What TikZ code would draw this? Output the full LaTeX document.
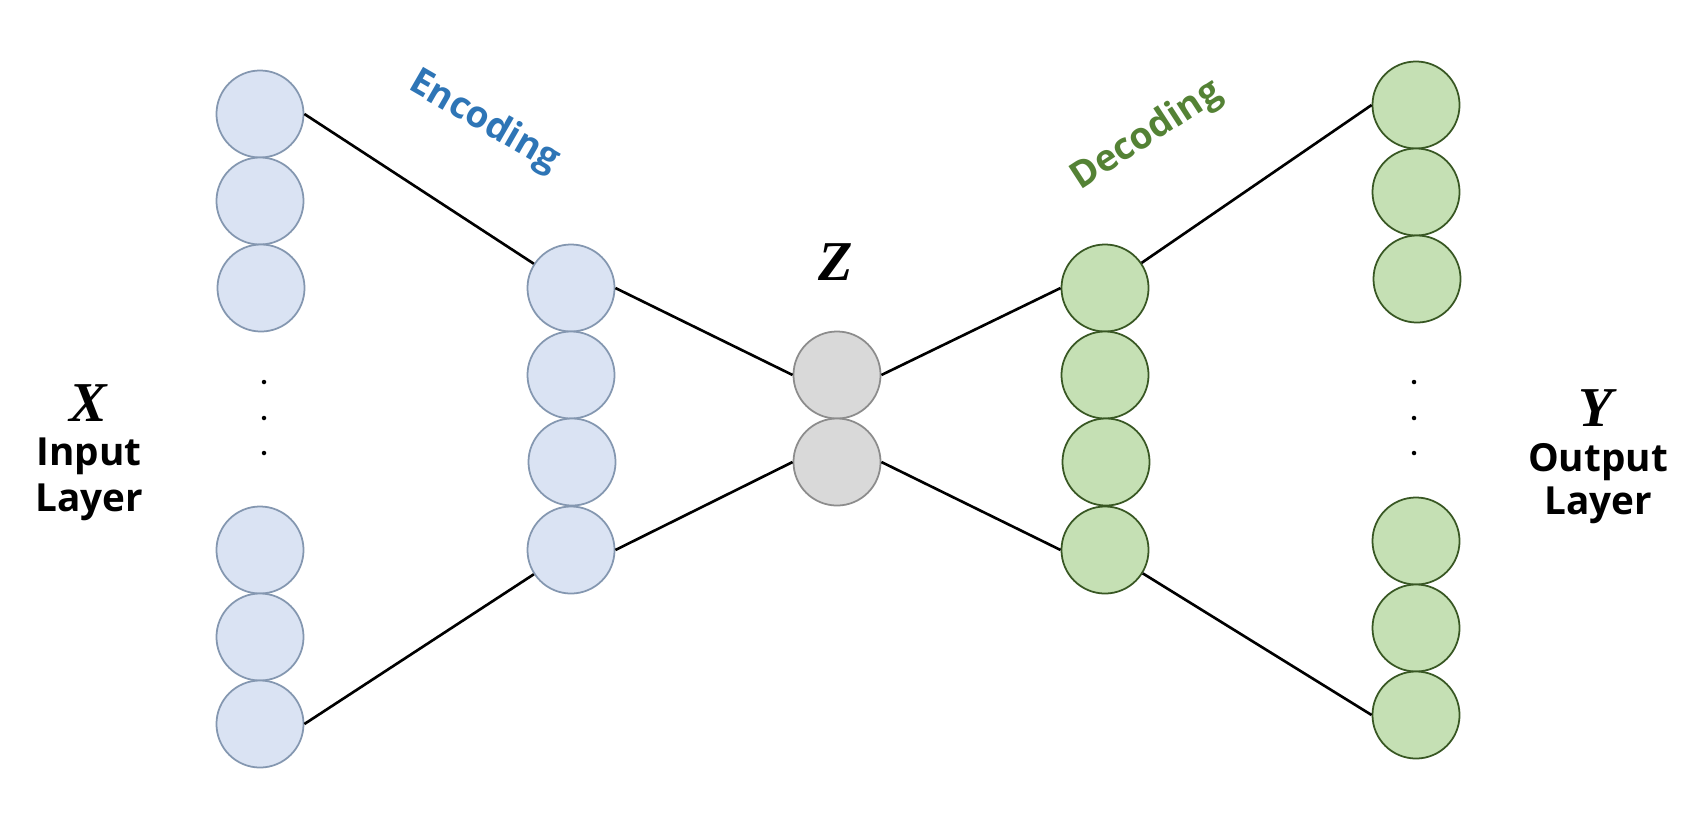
\documentclass[tikz,border=0pt]{standalone}
\usepackage{fontspec}
\setmainfont{Open Sans}
\newfontfamily\varfont{Liberation Serif}
\definecolor{encfill}{HTML}{DAE3F3}
\definecolor{encdraw}{HTML}{8497B0}
\definecolor{decfill}{HTML}{C5E0B4}
\definecolor{decdraw}{HTML}{385723}
\definecolor{zfill}{HTML}{D9D9D9}
\definecolor{zdraw}{HTML}{8C8C8C}
\definecolor{enctext}{HTML}{2E75B6}
\definecolor{dectext}{HTML}{548235}
\tikzset{
  neuron/.style={circle, minimum size=0.87cm, inner sep=0pt, line width=0.5pt},
  encn/.style={neuron, fill=encfill, draw=encdraw},
  decn/.style={neuron, fill=decfill, draw=decdraw},
  zn/.style={neuron, fill=zfill, draw=zdraw},
  link/.style={line width=0.75pt, black},
  dotn/.style={circle, fill=black, inner sep=0pt, minimum size=0.045cm},
  lbl/.style={font=\fontsize{11}{12}\selectfont\bfseries, inner sep=0pt},
  varlbl/.style={font=\fontsize{16}{17}\selectfont\varfont\bfseries\itshape, inner sep=0pt},
  phase/.style={font=\fontsize{10.5}{12}\selectfont\bfseries, inner sep=0pt},
}
\begin{document}
\begin{tikzpicture}[x=0.01cm, y=-0.01cm]
\useasboundingbox (0,0) rectangle (1700,833);
% input layer
\node[encn] (in1) at (260,114) {};
\node[encn] (in2) at (260,201) {};
\node[encn] (in3) at (261,288) {};
\node[dotn] (ind1) at (264,382) {};
\node[dotn] (ind2) at (264,418) {};
\node[dotn] (ind3) at (264,453) {};
\node[encn] (in4) at (260,550) {};
\node[encn] (in5) at (260,637) {};
\node[encn] (in6) at (260,724) {};
% encoder hidden
\node[encn] (en1) at (571,288) {};
\node[encn] (en2) at (571,375) {};
\node[encn] (en3) at (572,462) {};
\node[encn] (en4) at (571,550) {};
% latent
\node[zn] (z1) at (837,375) {};
\node[zn] (z2) at (837,462) {};
% decoder hidden
\node[decn] (de1) at (1105,288) {};
\node[decn] (de2) at (1105,375) {};
\node[decn] (de3) at (1106,462) {};
\node[decn] (de4) at (1105,550) {};
% output layer
\node[decn] (out1) at (1416,105) {};
\node[decn] (out2) at (1416,192) {};
\node[decn] (out3) at (1417,279) {};
\node[dotn] (outd1) at (1414,382) {};
\node[dotn] (outd2) at (1414,418) {};
\node[dotn] (outd3) at (1414,453) {};
\node[decn] (out4) at (1416,541) {};
\node[decn] (out5) at (1416,628) {};
\node[decn] (out6) at (1416,715) {};
% connectors
\draw[link] (in1.east) -- (en1);
\draw[link] (in6.east) -- (en4);
\draw[link] (en1.east) -- (z1.west);
\draw[link] (en4.east) -- (z2.west);
\draw[link] (z1.east) -- (de1.west);
\draw[link] (z2.east) -- (de4.west);
\draw[link] (de1) -- (out1.west);
\draw[link] (de4) -- (out6.west);
% labels
\node[varlbl] (xl) at (88,403) {X};
\node[lbl] (inl) at (89,456) {Input};
\node[lbl] (inl2) at (89,502) {Layer};
\node[varlbl] (yl) at (1596,408) {Y};
\node[lbl] (outl) at (1598,462) {Output};
\node[lbl] (outl2) at (1598,505) {Layer};
\node[varlbl] (zl) at (836,262) {Z};
\node[phase, text=enctext, rotate=-30] (encl) at (484,122) {Encoding};
\node[phase, text=dectext, rotate=33] (decl) at (1147,136) {Decoding};
\end{tikzpicture}
\end{document}
